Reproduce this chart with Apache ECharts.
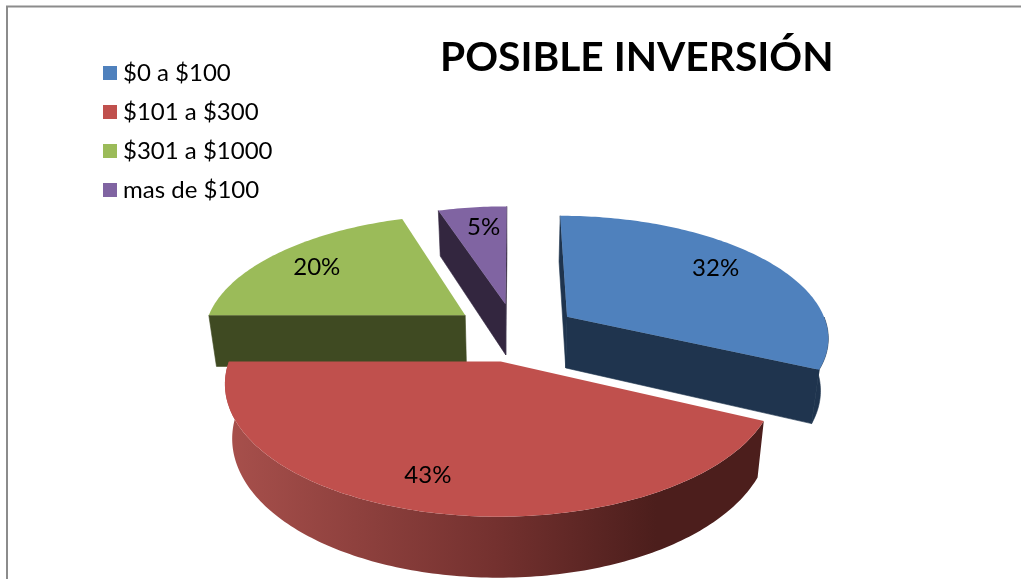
<!DOCTYPE html>
<html>
<head>
<meta charset="utf-8">
<style>html,body{margin:0;padding:0;background:#fff}#chart{width:1021px;height:579px}</style>
<script src="https://cdn.jsdelivr.net/npm/echarts@6/dist/echarts.min.js"></script>
</head>
<body>
<div id="chart"></div>
<script>
const categories = ['$0 a $100', '$101 a $300', '$301 a $1000', 'mas de $100'];
const percentages = [32, 43, 20, 5];
const chartTitle = 'POSIBLE INVERSIÓN';

const topColors = ['#4F81BD', '#C0504D', '#9BBB59', '#8064A2'];
const wallColors = ['#1F344E', '#4C1E1C', '#3F4A22', '#33263F'];
const paintDepth = [3, 4, 2, 1];
const labelAngleShift = [-2.6, 4, -1, 1.5];
const labelRadii = [0.77, 0.8, 0.77, 0.77];

// Tilted-disc camera: disc coordinates (X right, Z away from the viewer) to pixels
const cam = { cx: 515, cy: 332, ax: 262, ay: 121, persp: 0.155, wall: 52, wallPersp: 0.12, shrink: 0.975 };
const explode = 0.24;

function top3d(X, Z) {
  const d = 1 + cam.persp * Z;
  return [cam.cx + cam.ax * X / d, cam.cy - cam.ay * Z / d];
}
function bottom3d(X, Z) {
  const p = top3d(X, Z);
  return [cam.cx + (p[0] - cam.cx) * cam.shrink, p[1] + cam.wall / (1 + cam.wallPersp * Z)];
}

const total = percentages.reduce((a, b) => a + b, 0);
const starts = [];
percentages.reduce((acc, v, i) => { starts[i] = acc; return acc + v; }, 0);

function sliceGeometry(i, value) {
  const a0 = starts[i] / total * 2 * Math.PI;
  const a1 = (starts[i] + value) / total * 2 * Math.PI;
  const mid = (a0 + a1) / 2;
  const ox = Math.sin(mid) * explode;
  const oz = Math.cos(mid) * explode;
  const steps = Math.max(6, Math.round((a1 - a0) * 180 / Math.PI));
  const rim = [];
  const frontRim = [];
  for (let s = 0; s <= steps; s++) {
    const a = a0 + (a1 - a0) * s / steps;
    const p = [ox + Math.sin(a), oz + Math.cos(a)];
    rim.push(p);
    if (Math.cos(a) <= 0) frontRim.push(p);
  }
  return { mid, ox, oz, rim, frontRim };
}

// Signed screen area of a quad; negative means the wall faces the viewer
function signedArea(pts) {
  let sum = 0;
  pts.forEach((p, k) => {
    const q = pts[(k + 1) % pts.length];
    sum += p[0] * q[1] - q[0] * p[1];
  });
  return sum;
}

function renderSlice(i) {
  return function (params, api) {
    const g = sliceGeometry(i, api.value(0));
    const apex = [g.ox, g.oz];
    const first = g.rim[0];
    const last = g.rim[g.rim.length - 1];
    const face = (a, b) => [top3d(a[0], a[1]), top3d(b[0], b[1]), bottom3d(b[0], b[1]), bottom3d(a[0], a[1])];
    const wall = { fill: wallColors[i], stroke: wallColors[i], lineWidth: 0.6 };
    const rimTop = g.rim.map(p => top3d(p[0], p[1]));
    const rimStyle = i === 1
      ? { fill: new echarts.graphic.LinearGradient(0, 0, 1, 0, [
          { offset: 0, color: '#A8504C' },
          { offset: 0.5, color: '#74312F' },
          { offset: 0.8, color: '#4C1E1C' },
          { offset: 1, color: '#4C1E1C' }
        ]) }
      : wall;
    const labelAngle = g.mid + labelAngleShift[i] * Math.PI / 180;
    const lp = top3d(g.ox + Math.sin(labelAngle) * labelRadii[i], g.oz + Math.cos(labelAngle) * labelRadii[i]);
    const children = [];
    [face(apex, first), face(last, apex)].forEach(points => {
      if (signedArea(points) < 0) {
        children.push({ type: 'polygon', shape: { points }, style: wall });
      }
    });
    if (g.frontRim.length > 1) {
      const front = g.frontRim.map(p => top3d(p[0], p[1]))
        .concat(g.frontRim.map(p => bottom3d(p[0], p[1])).reverse());
      children.push({ type: 'polygon', shape: { points: front }, style: rimStyle });
    }
    children.push(
      { type: 'polygon', shape: { points: [top3d(apex[0], apex[1])].concat(rimTop) }, style: { fill: topColors[i] } },
      { type: 'text', style: {
          text: api.value(0) + '%', x: lp[0], y: lp[1], align: 'center', verticalAlign: 'middle',
          fill: '#000', fontFamily: 'Lato', fontSize: 24
      } }
    );
    return { type: 'group', children };
  };
}

const chart = echarts.init(document.getElementById('chart'), null, { renderer: 'canvas' });
chart.setOption({
  animation: false,
  backgroundColor: '#fff',
  title: {
    text: chartTitle, left: 435, top: 32,
    textStyle: { fontFamily: 'Lato', fontWeight: 'bold', fontSize: 40.7, color: '#000' }
  },
  legend: {
    data: categories, orient: 'vertical', left: 103, top: 61, padding: 0, icon: 'rect',
    itemWidth: 14, itemHeight: 14, itemGap: 15, selectedMode: false,
    textStyle: { fontFamily: 'Lato', fontSize: 24, color: '#000', padding: [0, 0, 0, 1] }
  },
  graphic: [{
    type: 'rect', silent: true, z: -1,
    shape: { x: 7, y: 6.5, width: 1200, height: 800 },
    style: { fill: 'none', stroke: '#8C8C8C', lineWidth: 2 }
  }],
  tooltip: { show: false },
  series: categories.map((name, i) => ({
    type: 'custom',
    name,
    z: paintDepth[i] + 1,
    coordinateSystem: 'none',
    itemStyle: { color: topColors[i] },
    renderItem: renderSlice(i),
    data: [[percentages[i]]],
    silent: true
  }))
});
</script>
</body>
</html>
